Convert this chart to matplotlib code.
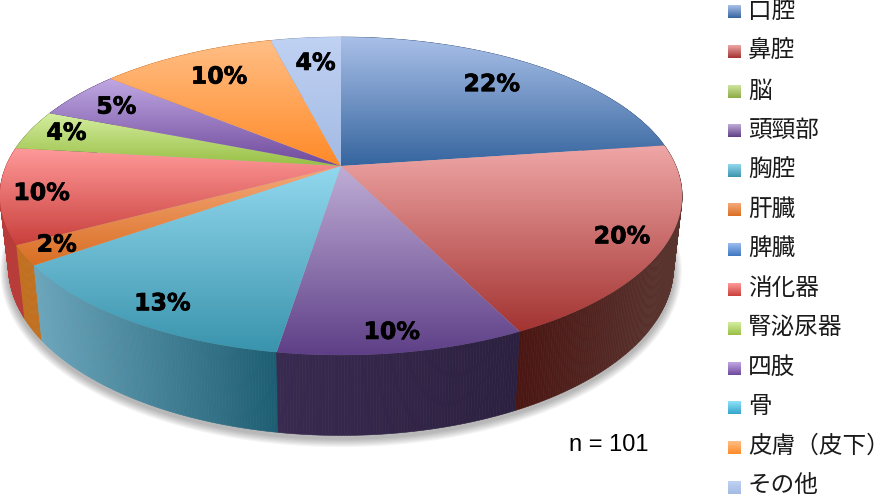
import numpy as np
import matplotlib
matplotlib.use('Agg')
import matplotlib.pyplot as plt
import matplotlib.patheffects as pe
from matplotlib.patches import Polygon
from matplotlib.collections import PolyCollection
from matplotlib.colors import to_rgb

plt.rcParams['font.family'] = ['Noto Sans CJK JP', 'DejaVu Sans']

categories = ['口腔', '鼻腔', '脳', '頭頸部', '胸腔', '肝臓', '脾臓', '消化器',
              '腎泌尿器', '四肢', '骨', '皮膚（皮下）', 'その他']
# slice sizes as measured on the picture (%), labels as printed
slice_sizes = [22.8, 19.9, 0, 9.8, 12.7, 2.0, 0, 9.7, 4.1, 5.0, 0, 10.0, 4.0]
pct_labels = ['22%', '20%', '', '10%', '13%', '2%', '', '10%', '4%', '5%', '', '10%', '4%']
top_light = ['#a9c0e8', '#efa6a6', '#cfe59f', '#bfadd6', '#92d8ee', '#f5a97a', '#9cbcf0',
             '#ff9a9a', '#d4eea0', '#c0a8e3', '#8fe2f8', '#ffbe85', '#c0d2f3']
top_dark = ['#36659f', '#a33432', '#8cab45', '#5f4088', '#3a94ad', '#d96f24', '#3f77bf',
            '#c9403c', '#99bf45', '#6f4a9c', '#35a5cc', '#ff8a28', '#a3bae3']
wall_left = ['#2f4d78', '#4a1512', '#66802f', '#382a50', '#6ba6bc', '#c2701f', '#2f5a90',
             '#b83c3a', '#74903a', '#4f3870', '#2f80a0', '#c96a1c', '#7a8cac']
wall_right = ['#2f4d78', '#5a3530', '#66802f', '#2c2040', '#1e5e73', '#c2701f', '#2f5a90',
              '#b83c3a', '#74903a', '#4f3870', '#2f80a0', '#c96a1c', '#7a8cac']
n_text = 'n = 101'

# pie geometry in image pixels
CX, CY = 341, 166
A, B, K = 335, 153.4, 0.189
SHRINK_X, SCALE_Y, OFF_Y = 0.975, 1.06, 59
# small hand nudges for the percent labels, px
LABEL_NUDGE = {0: (-3, -1), 1: (-5, 1), 3: (-3, 4), 4: (5, 2), 5: (-6, 0), 7: (3, 1),
               8: (3, -1), 9: (-9, -1), 11: (2, 0), 12: (3, 0)}


def project(theta, r=1.0):
    # circle -> screen with a simple perspective, theta clockwise from top
    u = r * np.sin(theta)
    v = -r * np.cos(theta)
    w = 1 - K * v
    return CX + A * u / w, CY + B * v / w


def to_floor(x, y):
    return CX + (x - CX) * SHRINK_X, SCALE_Y * y + OFF_Y


def gradient(c0, c1, n=64):
    a = np.array(to_rgb(c0))
    b = np.array(to_rgb(c1))
    t = np.linspace(0, 1, n)[:, None]
    return (a + (b - a) * t)[:, None, :]


fig = plt.figure(figsize=(8.82, 4.98), dpi=100)
ax = fig.add_axes([0, 0, 1, 1])

# soft shadow under the pie
tt = np.linspace(0, 2 * np.pi, 361)
fx, fy = to_floor(*project(tt))
for i in range(7, 0, -1):
    sx = CX + (fx - CX) * (1 + i * 0.0035)
    sy = (fy - 230) * (1 + i * 0.006) + 230 + 3
    ax.add_patch(Polygon(np.c_[sx, sy], closed=True, fc='black', ec='none', alpha=0.045, zorder=1))

# side wall, thin quads
edges = np.radians(np.cumsum([0] + slice_sizes) * 3.6)
quads, quad_cols, quad_v = [], [], []
for i in range(len(categories)):
    if slice_sizes[i] == 0:
        continue
    steps = max(int(slice_sizes[i] * 8), 4)
    th = np.linspace(edges[i], edges[i + 1], steps + 1)
    x, y = project(th)
    x2, y2 = to_floor(x, y)
    c0 = np.array(to_rgb(wall_left[i]))
    c1 = np.array(to_rgb(wall_right[i]))
    for j in range(steps):
        quads.append([(x[j], y[j]), (x[j + 1], y[j + 1]), (x2[j + 1], y2[j + 1]), (x2[j], y2[j])])
        t = (x[j] - x.min()) / max(x.max() - x.min(), 1)
        quad_cols.append(c0 + (c1 - c0) * t)
        quad_v.append(y[j])
order = np.argsort(quad_v)
ax.add_collection(PolyCollection([quads[k] for k in order],
                                 facecolors=[quad_cols[k] for k in order],
                                 edgecolors=[quad_cols[k] for k in order],
                                 linewidths=0.4, zorder=2))

# top face, each slice has its own vertical gradient
for i in range(len(categories)):
    if slice_sizes[i] == 0:
        continue
    th = np.linspace(edges[i], edges[i + 1], max(int(slice_sizes[i] * 8), 6))
    x, y = project(th)
    pts = np.vstack([[CX, CY], np.c_[x, y]])
    patch = Polygon(pts, closed=True, fc='none', ec='none', transform=ax.transData)
    ax.add_patch(patch)
    im = ax.imshow(gradient(top_light[i], top_dark[i]), aspect='auto', interpolation='bilinear',
                   extent=[pts[:, 0].min(), pts[:, 0].max(), pts[:, 1].max(), pts[:, 1].min()],
                   zorder=3)
    im.set_clip_path(patch)

# percent labels
for i in range(len(categories)):
    if slice_sizes[i] == 0:
        continue
    mid = (edges[i] + edges[i + 1]) / 2
    r = np.interp(-np.cos(mid), [-0.6, -0.25], [0.776, 0.89])
    lx, ly = project(mid, r)
    dx, dy = LABEL_NUDGE[i]
    t = ax.text(lx + dx, ly + dy, pct_labels[i], ha='center', va='center', fontsize=17,
                fontweight='bold', family='DejaVu Sans', color='black', zorder=5)
    t.set_path_effects([pe.withStroke(linewidth=0.5, foreground='black')])

# legend
for i, name in enumerate(categories):
    yc = 12 + i * 39.6
    ax.imshow(gradient(top_light[i], top_dark[i]), aspect='auto', interpolation='bilinear',
              extent=[728, 741, yc + 6.5, yc - 6.5], zorder=3)
    ax.text(748, 12.5 + i * 39.4, name, ha='left', va='center', fontsize=17, color='#1a1a1a',
            family=['Noto Sans CJK JP', 'DejaVu Sans'], zorder=5)

ax.text(569, 445, n_text, ha='left', va='center', fontsize=17, family='Liberation Sans', color='black')

ax.set_xlim(0, 882)
ax.set_ylim(498, 0)
ax.axis('off')
fig.savefig('out.png', dpi=100)
